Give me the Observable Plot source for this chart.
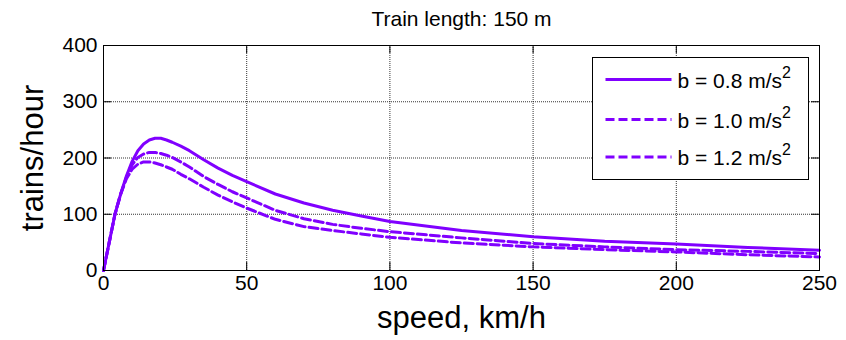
<!DOCTYPE html>
<html>
<head>
<meta charset="utf-8">
<script src="https://cdn.jsdelivr.net/npm/d3@7"></script>
<script src="https://cdn.jsdelivr.net/npm/@observablehq/plot@0.6"></script>
<style>
  html, body { margin: 0; padding: 0; background: #fff; }
  #chart { width: 846px; height: 340px; }
  svg { font-family: Arial, "Liberation Sans", sans-serif; }
</style>
</head>
<body>
<div id="chart"></div>
<script>
const title = "Train length: 150 m";
const xLabel = "speed, km/h";
const yLabel = "trains/hour";
const xTicks = [0, 50, 100, 150, 200, 250];
const yTicks = [0, 100, 200, 300, 400];
const seriesNames = ["b = 0.8 m/s", "b = 1.0 m/s", "b = 1.2 m/s"];
const speed = [0,2,4,6,8,10,12,14,16,18,20,22,24,27,30,35,40,45,50,60,70,80,90,100,125,150,175,200,225,250];
const b08 = [0,50,100,136,168,194,213,225,232,235,235,232,228,221,213,197,182,169,158,136,120,107,97,87,71,60,52,47,41,36];
const b10 = [0,50,100,136,166,188,201,207,210,210,208,205,201,193,184,167,153,140,129,107,92,82,75,69,58,48,42,37,34,30];
const b12 = [0,50,100,136,163,180,189,193,193,191,188,184,180,171,163,148,134,122,111,91,78,71,65,59,49,42,37,33,28,24];

const color = "#8000ff";
const seriesValues = [b08, b10, b12];
const dashes = [null, "9,4", "9,4"];
const data = seriesValues.map((vals, i) => speed.map((s, j) => ({speed: s, value: vals[j], name: seriesNames[i]})));

const W = 846, H = 340;
const mL = 103, mR = 27, mT = 45, mB = 70;
const frameW = W - mL - mR, frameH = H - mT - mB;

const plot = Plot.plot({
  width: W, height: H,
  marginLeft: mL, marginRight: mR, marginTop: mT, marginBottom: mB,
  style: {fontFamily: "Arial, 'Liberation Sans', sans-serif", background: "white", overflow: "visible"},
  x: {domain: [0, 250], ticks: xTicks},
  y: {domain: [0, 400], ticks: yTicks},
  marks: [
    Plot.gridX(xTicks, {stroke: "#000", strokeOpacity: 0.8, strokeDasharray: "1,1"}),
    Plot.gridY(yTicks, {stroke: "#000", strokeOpacity: 0.8, strokeDasharray: "1,1"}),
    ...data.map((d, i) => Plot.line(d, {x: "speed", y: "value", stroke: color, strokeWidth: 3, strokeDasharray: dashes[i], strokeLinejoin: "round"})),
    Plot.tickX(xTicks, {x: d => d, insetTop: frameH - 8, stroke: "#000", strokeWidth: 1}),
    Plot.tickX(xTicks, {x: d => d, insetBottom: frameH - 8, stroke: "#000", strokeWidth: 1}),
    Plot.tickY(yTicks, {y: d => d, insetRight: frameW - 8, stroke: "#000", strokeWidth: 1}),
    Plot.tickY(yTicks, {y: d => d, insetLeft: frameW - 8, stroke: "#000", strokeWidth: 1}),
    Plot.frame({stroke: "#000", strokeWidth: 1}),
    Plot.axisX(xTicks, {tickSize: 0, tickPadding: 5, fontSize: 21, label: null, color: "#000"}),
    Plot.axisY(yTicks, {tickSize: 0, tickPadding: 6, fontSize: 21, label: null, color: "#000"}),
    Plot.text([title], {frameAnchor: "top", dy: -34, text: d => d, fontSize: 21, fill: "#000"}),
    Plot.text([xLabel], {frameAnchor: "bottom", dy: 57, text: d => d, fontSize: 31, fill: "#000"}),
    Plot.text([yLabel], {frameAnchor: "left", dx: -70, rotate: -90, textAnchor: "middle", lineAnchor: "middle", text: d => d, fontSize: 31, fill: "#000"})
  ]
});

// Legend (drawn into the same SVG)
const svg = d3.select(plot);
const lg = svg.append("g").attr("transform", "translate(592.5,57.5)");
lg.append("rect").attr("width", 216).attr("height", 122).attr("fill", "#fff").attr("stroke", "#000").attr("stroke-width", 1);
const rowY = [22, 62, 99.5];
seriesNames.forEach((name, i) => {
  lg.append("line").attr("x1", 13).attr("x2", 79).attr("y1", rowY[i]).attr("y2", rowY[i])
    .attr("stroke", color).attr("stroke-width", 3).attr("stroke-dasharray", dashes[i]);
  const t = lg.append("text").attr("x", 85).attr("y", rowY[i] + 8).attr("text-anchor", "start")
    .attr("font-size", 21).attr("fill", "#000");
  t.append("tspan").text(name);
  t.append("tspan").attr("dy", -10).attr("font-size", 16).text("2");
});

document.getElementById("chart").appendChild(plot);
</script>
</body>
</html>
